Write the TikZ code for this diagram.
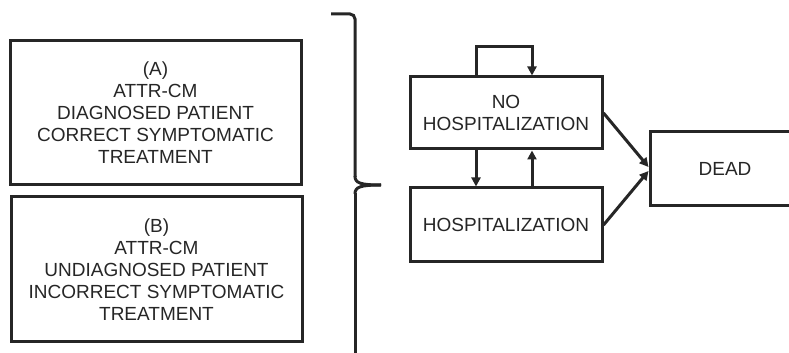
\documentclass[tikz,border=0pt]{standalone}
\usepackage{fontspec}
\setmainfont{Liberation Sans}
\usepackage{tikz}
\usetikzlibrary{calc, positioning, arrows.meta}

\begin{document}
\begin{tikzpicture}[x=1pt, y=1pt,
        box/.style={draw=black!85, line width=3pt, inner sep=0pt, align=center,
            font=\fontsize{19}{22}\selectfont, text=black!85},
        arr/.style={draw=black!85, line width=3pt, -{Triangle[length=9pt,width=9pt]}}]
    \useasboundingbox (0,0) rectangle (789,353);
    \clip (0,0) rectangle (789,353);

    \node[box, minimum width=291pt, minimum height=144pt] (diagA) at (155.5,240)
        {(A)\\ATTR-CM\\DIAGNOSED PATIENT\\CORRECT SYMPTOMATIC\\TREATMENT};
    \node[box, minimum width=291pt, minimum height=145pt] (diagB) at (156.5,83.5)
        {(B)\\ATTR-CM\\UNDIAGNOSED PATIENT\\INCORRECT SYMPTOMATIC\\TREATMENT};

    % brace
    \draw[black!85, line width=3pt, rounded corners=5pt] (331,339) -- (355,339) -- (355,176);
    \draw[black!85, line width=3pt] (355,177) .. controls (355,170) and (360,168) .. (381,168);
    \draw[black!85, line width=3pt] (355,159) .. controls (355,166) and (360,168) .. (381,168);
    \draw[black!85, line width=3pt] (355,160) -- (355,0);

    \node[box, minimum width=192pt, minimum height=72pt] (nohosp) at (506,240) {NO\\HOSPITALIZATION};
    \node[box, minimum width=192pt, minimum height=74pt] (hosp) at (506,128) {HOSPITALIZATION};
    \node[box, minimum width=150pt, minimum height=74pt] (dead) at (725,184) {DEAD};

    \draw[arr] ([xshift=-30pt]nohosp.north) -- ++(0,29) -| ([xshift=26pt]nohosp.north);
    \draw[arr] ([xshift=-30pt]nohosp.south) -- ([xshift=-30pt]hosp.north);
    \draw[arr] ([xshift=26pt]hosp.north) -- ([xshift=26pt]nohosp.south);
    \draw[arr] (nohosp.east) -- ([yshift=2pt]dead.west);
    \draw[arr] (hosp.east) -- ([yshift=-2pt]dead.west);
\end{tikzpicture}
\end{document}
